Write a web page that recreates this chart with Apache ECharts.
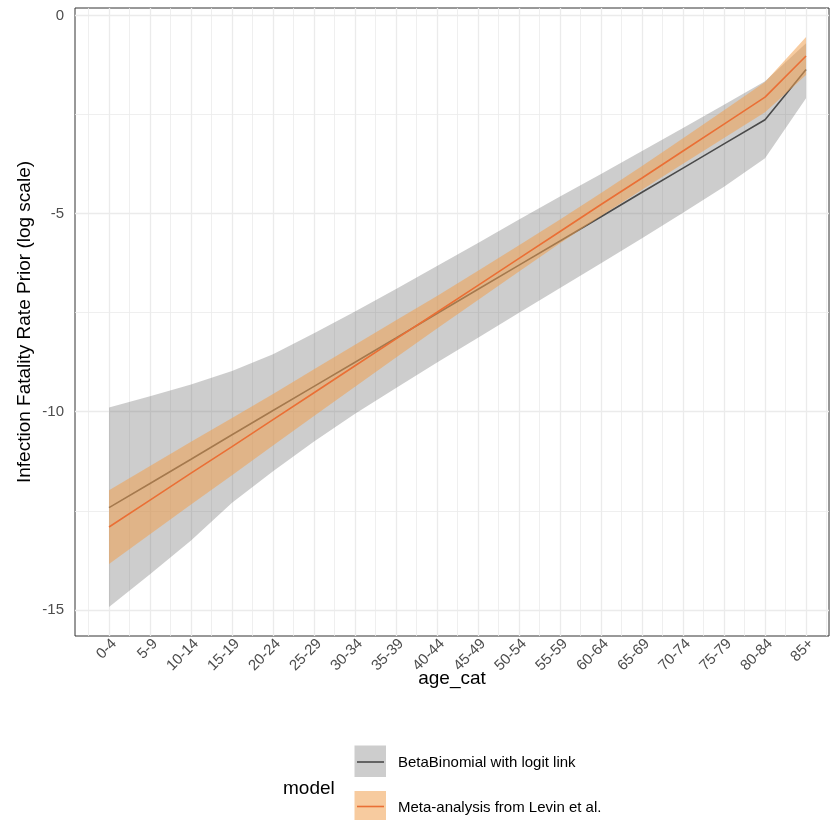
<!DOCTYPE html>
<html>
<head>
<meta charset="utf-8">
<script src="https://cdn.jsdelivr.net/npm/echarts@6/dist/echarts.min.js"></script>
<style>
  html, body { margin: 0; padding: 0; background: #ffffff; }
  #chart { width: 830px; height: 820px; }
</style>
</head>
<body>
<div id="chart"></div>
<script>
// Age bands on the x axis
const ageCats = ['0-4', '5-9', '10-14', '15-19', '20-24', '25-29', '30-34', '35-39', '40-44',
  '45-49', '50-54', '55-59', '60-64', '65-69', '70-74', '75-79', '80-84', '85+'];

// BetaBinomial with logit link: mean and interval (log IFR)
const betaMean  = [-12.42, -11.81, -11.20, -10.58, -9.97, -9.36, -8.75, -8.14, -7.52,
  -6.91, -6.30, -5.69, -5.08, -4.46, -3.85, -3.24, -2.63, -1.36];
const betaLower = [-14.93, -14.10, -13.25, -12.30, -11.50, -10.75, -10.05, -9.40, -8.76,
  -8.13, -7.50, -6.88, -6.25, -5.62, -4.98, -4.32, -3.60, -2.09];
const betaUpper = [-9.89, -9.61, -9.31, -8.97, -8.55, -8.02, -7.47, -6.90, -6.32,
  -5.74, -5.15, -4.57, -4.00, -3.42, -2.84, -2.25, -1.66, -0.70];

// Meta-analysis from Levin et al.: mean and interval (log IFR)
const levinMean  = [-12.91, -12.23, -11.55, -10.88, -10.20, -9.52, -8.84, -8.16, -7.49,
  -6.81, -6.13, -5.45, -4.77, -4.10, -3.42, -2.74, -2.06, -1.02];
const levinLower = [-13.84, -13.09, -12.34, -11.60, -10.85, -10.11, -9.37, -8.63, -7.90,
  -7.18, -6.46, -5.75, -5.06, -4.40, -3.74, -3.09, -2.44, -1.50];
const levinUpper = [-11.98, -11.37, -10.76, -10.16, -9.55, -8.93, -8.31, -7.69, -7.08,
  -6.44, -5.80, -5.15, -4.48, -3.80, -3.10, -2.39, -1.68, -0.54];

// Axis ticks
const yTicks = [0, -5, -10, -15];
const yMinorTicks = [-2.5, -7.5, -12.5];
const modelNames = ['BetaBinomial with logit link', 'Meta-analysis from Levin et al.'];

const FONT = '"Liberation Sans", Arial, Helvetica, sans-serif';
const GREY_FILL = 'rgba(102,102,102,0.33)';
const ORANGE_FILL = 'rgba(240,160,80,0.55)';
const GREY_LINE = '#4a4a4a';
const ORANGE_LINE = '#ea6f35';

const idx = ageCats.map((_, i) => i);
const pairs = arr => arr.map((v, i) => [i, v]);

// panel grid lines: one at each age band and one halfway between
const vGrid = [];
idx.forEach(i => {
  vGrid.push({ xAxis: i - 0.5, lineStyle: { width: 0.8 } });
  vGrid.push({ xAxis: i, lineStyle: { width: 1.3 } });
});
vGrid.push({ xAxis: idx.length - 0.5, lineStyle: { width: 0.8 } });
const hGrid = yTicks.map(v => ({ yAxis: v, lineStyle: { width: 1.3 } }))
  .concat(yMinorTicks.map(v => ({ yAxis: v, lineStyle: { width: 0.8 } })));

// ribbon between a lower and an upper bound, drawn as one polygon
function ribbon(name, lower, upper, fill, z) {
  return {
    name: name, type: 'custom', z: z, silent: true,
    data: [[0, lower[0], upper[0]]],
    encode: { x: 0, y: [1, 2] },
    renderItem: function (params, api) {
      const pts = [];
      lower.forEach((v, i) => pts.push(api.coord([i, v])));
      for (let i = upper.length - 1; i >= 0; i--) pts.push(api.coord([i, upper[i]]));
      return {
        type: 'polygon',
        shape: { points: pts },
        style: { fill: fill, stroke: null }
      };
    }
  };
}

const chart = echarts.init(document.getElementById('chart'), null, { renderer: 'canvas' });

chart.setOption({
  animation: false,
  backgroundColor: '#ffffff',
  textStyle: { fontFamily: FONT },
  grid: {
    left: 75, top: 8, right: 1, bottom: 184,
    show: true, borderColor: '#333333', borderWidth: 1, backgroundColor: 'transparent'
  },
  xAxis: {
    type: 'value',
    min: -0.83, max: 17.56,
    splitLine: { show: false },
    axisLine: { show: false },
    axisTick: { show: true, length: 5, customValues: idx, lineStyle: { color: '#333333', width: 1 } },
    axisLabel: {
      customValues: idx,
      formatter: v => ageCats[v],
      rotate: 45, fontSize: 15, color: '#4d4d4d', margin: 0,
      verticalAlign: 'top', fontFamily: FONT
    },
    name: 'age_cat', nameLocation: 'middle', nameGap: 33, nameMoveOverlap: false,
    nameTextStyle: { fontSize: 19, color: '#000000', fontFamily: FONT, verticalAlign: 'top' }
  },
  yAxis: {
    type: 'value',
    min: -15.66, max: 0.19,
    splitLine: { show: false },
    axisLine: { show: false },
    axisTick: { show: true, length: 5, customValues: yTicks, lineStyle: { color: '#333333', width: 1 } },
    axisLabel: {
      customValues: yTicks,
      formatter: v => String(v),
      fontSize: 15, color: '#4d4d4d', margin: 11, fontFamily: FONT
    },
    name: 'Infection Fatality Rate Prior (log scale)', nameLocation: 'middle', nameGap: 50,
    nameRotate: 90, nameMoveOverlap: false,
    nameTextStyle: { fontSize: 19, color: '#000000', fontFamily: FONT, verticalAlign: 'middle' }
  },
  series: [
    {
      name: 'grid', type: 'line', data: [], z: 1, silent: true,
      markLine: {
        silent: true, symbol: 'none', z: 1, animation: false,
        label: { show: false },
        lineStyle: { color: '#ebebeb', type: 'solid', width: 1 },
        emphasis: { disabled: true },
        data: vGrid.concat(hGrid)
      }
    },
    ribbon(modelNames[0] + ' interval', betaLower, betaUpper, GREY_FILL, 3),
    {
      name: modelNames[0], type: 'line', data: pairs(betaMean), symbol: 'none',
      lineStyle: { color: GREY_LINE, width: 1.6 }, z: 4, silent: true
    },
    ribbon(modelNames[1] + ' interval', levinLower, levinUpper, ORANGE_FILL, 5),
    {
      name: modelNames[1], type: 'line', data: pairs(levinMean), symbol: 'none',
      lineStyle: { color: ORANGE_LINE, width: 1.6 }, z: 6, silent: true
    }
  ],
  graphic: [
    { type: 'text', left: 283, top: 779,
      style: { text: 'model', fontSize: 19, fill: '#000000', fontFamily: FONT } },
    { type: 'rect', shape: { x: 354.5, y: 745.5, width: 31.5, height: 31.5 },
      style: { fill: GREY_FILL } },
    { type: 'line', shape: { x1: 357, y1: 762, x2: 384, y2: 762 },
      style: { stroke: GREY_LINE, lineWidth: 1.6 } },
    { type: 'text', left: 398, top: 755,
      style: { text: modelNames[0], fontSize: 15, fill: '#000000', fontFamily: FONT } },
    { type: 'rect', shape: { x: 354.5, y: 791, width: 31.5, height: 31.5 },
      style: { fill: ORANGE_FILL } },
    { type: 'line', shape: { x1: 357, y1: 806.5, x2: 384, y2: 806.5 },
      style: { stroke: ORANGE_LINE, lineWidth: 1.6 } },
    { type: 'text', left: 398, top: 800,
      style: { text: modelNames[1], fontSize: 15, fill: '#000000', fontFamily: FONT } }
  ]
});
</script>
</body>
</html>
